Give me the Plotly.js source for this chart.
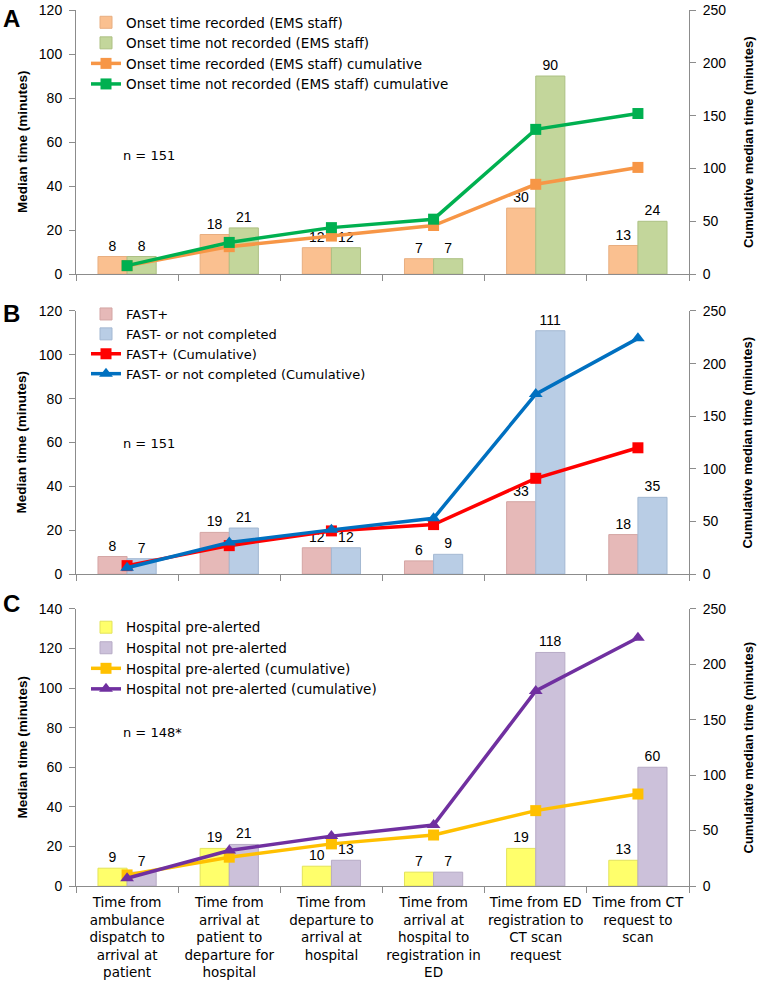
<!DOCTYPE html>
<html>
<head>
<meta charset="utf-8">
<script src="https://cdn.plot.ly/plotly-3.0.1.min.js"></script>
<style>html,body{margin:0;padding:0;background:#fff;}#chart{width:758px;height:987px;}</style>
</head>
<body>
<div id="chart"></div>
<script>
var categories = [
  "Time from<br>ambulance<br>dispatch to<br>arrival at<br>patient",
  "Time from<br>arrival at<br>patient to<br>departure for<br>hospital",
  "Time from<br>departure to<br>arrival at<br>hospital",
  "Time from<br>arrival at<br>hospital to<br>registration in<br>ED",
  "Time from ED<br>registration to<br>CT scan<br>request",
  "Time from CT<br>request to<br>scan"
];

// Panel A
var onsetRecorded = [8, 18, 12, 7, 30, 13];
var onsetNotRecorded = [8, 21, 12, 7, 90, 24];
var onsetRecordedCum = [8, 26, 36, 46, 85, 101];
var onsetNotRecordedCum = [8, 30, 44, 52, 137, 152];

// Panel B
var fastPos = [8, 19, 12, 6, 33, 18];
var fastNeg = [7, 21, 12, 9, 111, 35];
var fastPosCum = [8, 27, 41, 47, 91, 120];
var fastNegCum = [6, 30, 42, 53, 171, 224];

// Panel C
var preAlerted = [9, 19, 10, 7, 19, 13];
var notPreAlerted = [7, 21, 13, 7, 118, 60];
var preAlertedCum = [10, 26, 38, 46, 68, 83];
var notPreAlertedCum = [7, 32, 45, 55, 176, 224];

var FONT = "Liberation Sans, Arial, sans-serif";
var WIDE = "DejaVu Sans, sans-serif";

function bar(y, name, color, line, xa, ya, leg) {
  return {type: 'bar', x: categories, y: y, name: name, xaxis: xa, yaxis: ya, legend: leg,
    marker: {color: color, line: {color: line, width: 1}},
    text: y, texttemplate: '%{y}', textposition: 'outside', cliponaxis: false,
    textfont: {family: FONT, size: 14, color: '#000'}, constraintext: 'none'};
}
function line(y, name, color, symbol, size, xa, ya, leg) {
  return {type: 'scatter', mode: 'lines+markers', x: categories, y: y, name: name,
    xaxis: xa, yaxis: ya, legend: leg, cliponaxis: false,
    line: {color: color, width: 3.5},
    marker: {color: color, symbol: symbol, size: size}};
}

var data = [
  bar(onsetRecorded, 'Onset time recorded (EMS staff)', '#FAC090', '#E8AE80', 'x', 'y', 'legend'),
  bar(onsetNotRecorded, 'Onset time not recorded (EMS staff)', '#C3D69B', '#ADC083', 'x', 'y', 'legend'),
  line(onsetRecordedCum, 'Onset time recorded (EMS staff) cumulative', '#F79646', 'square', 11, 'x', 'y2', 'legend'),
  line(onsetNotRecordedCum, 'Onset time not recorded (EMS staff) cumulative', '#00B050', 'square', 11, 'x', 'y2', 'legend'),

  bar(fastPos, 'FAST+', '#E6B9B8', '#D4A5A4', 'x2', 'y3', 'legend2'),
  bar(fastNeg, 'FAST- or not completed', '#B9CDE5', '#A3B8D2', 'x2', 'y3', 'legend2'),
  line(fastPosCum, 'FAST+ (Cumulative)', '#FF0000', 'square', 11, 'x2', 'y4', 'legend2'),
  line(fastNegCum, 'FAST- or not completed (Cumulative)', '#0070C0', 'triangle-up', 12, 'x2', 'y4', 'legend2'),

  bar(preAlerted, 'Hospital pre-alerted', '#FFFF6B', '#E3E35A', 'x3', 'y5', 'legend3'),
  bar(notPreAlerted, 'Hospital not pre-alerted', '#CCC1DA', '#B7ABC6', 'x3', 'y5', 'legend3'),
  line(preAlertedCum, 'Hospital pre-alerted (cumulative)', '#FFC000', 'square', 11, 'x3', 'y6', 'legend3'),
  line(notPreAlertedCum, 'Hospital not pre-alerted (cumulative)', '#7030A0', 'triangle-up', 12, 'x3', 'y6', 'legend3')
];

var AX = '#8C8C8C';
var tickFont = {family: FONT, size: 14, color: '#000'};
function xax(anchor, showLabels) {
  return {anchor: anchor, domain: [0, 1], type: 'category', showline: true, linecolor: AX, linewidth: 1,
    ticks: 'outside', tickson: 'boundaries', ticklen: 6, tickcolor: AX, showgrid: false,
    showticklabels: showLabels, tickfont: {family: WIDE, size: 13.5, color: '#000'}, tickangle: 0,
    ticklabelstandoff: 4, zeroline: false};
}
function yleft(dom, max, anchor) {
  return {domain: dom, range: [0, max], dtick: 20, anchor: anchor, showline: true, linecolor: AX,
    ticks: 'outside', ticklen: 6, tickcolor: AX, showgrid: false, zeroline: false,
    tickfont: tickFont, ticklabelstandoff: 4, ticklabeloverflow: 'allow'};
}
function yright(over, anchor) {
  return {overlaying: over, side: 'right', range: [0, 250], dtick: 50, anchor: anchor, showline: true,
    linecolor: AX, ticks: 'outside', ticklen: 6, tickcolor: AX, showgrid: false, zeroline: false,
    tickfont: tickFont, ticklabelstandoff: 4, ticklabeloverflow: 'allow'};
}

var dA = [0.6985, 1], dB = [0.3561, 0.6564], dC = [0, 0.3163];
var PW = 613; // plot width in px
function paperY(py) { return (886 - py) / 879; }
function legendAt(topPx, size) {
  return {x: 10 / PW, xanchor: 'left', y: paperY(topPx), yanchor: 'top', bgcolor: 'rgba(0,0,0,0)',
    font: {family: WIDE, size: size, color: '#000'}, tracegroupgap: 0, traceorder: 'normal'};
}

var annotations = [];
function yTitles(dom) {
  var mid = (dom[0] + dom[1]) / 2;
  annotations.push({text: '<b>Median time (minutes)</b>', xref: 'paper', yref: 'paper', x: 0, y: mid,
    xanchor: 'center', yanchor: 'middle', xshift: -54, textangle: -90, showarrow: false,
    font: {family: FONT, size: 13.5, color: '#000'}});
  annotations.push({text: '<b>Cumulative median time (minutes)</b>', xref: 'paper', yref: 'paper', x: 1, y: mid,
    xanchor: 'center', yanchor: 'middle', xshift: 59, textangle: -90, showarrow: false,
    font: {family: FONT, size: 13, color: '#000'}});
}
yTitles(dA); yTitles(dB); yTitles(dC);

var letters = [['A', 16], ['B', 312], ['C', 603]];
letters.forEach(function (l) {
  annotations.push({text: '<b>' + l[0] + '</b>', xref: 'paper', yref: 'paper', x: 0, y: paperY(l[1]),
    xanchor: 'center', yanchor: 'middle', xshift: -65, showarrow: false,
    font: {family: FONT, size: 24, color: '#000'}});
});
var nTexts = [['n = 151', 153], ['n = 151', 442], ['n = 148*', 732]];
nTexts.forEach(function (n) {
  annotations.push({text: n[0], xref: 'paper', yref: 'paper', x: 45 / PW, xanchor: 'left', y: paperY(n[1]),
    yanchor: 'middle', showarrow: false, font: {family: WIDE, size: 13, color: '#000'}});
});

var layout = {
  width: 758, height: 987,
  margin: {l: 76, r: 69, t: 7, b: 101},
  paper_bgcolor: '#fff', plot_bgcolor: '#fff',
  font: {family: FONT, size: 14, color: '#000'},
  barmode: 'group', bargap: 0.43, bargroupgap: 0,
  xaxis: xax('y', false),
  xaxis2: xax('y3', false),
  xaxis3: xax('y5', true),
  yaxis: yleft(dA, 120, 'x'),
  yaxis2: yright('y', 'x'),
  yaxis3: yleft(dB, 120, 'x2'),
  yaxis4: yright('y3', 'x2'),
  yaxis5: yleft(dC, 140, 'x3'),
  yaxis6: yright('y5', 'x3'),
  legend: legendAt(4, 13.5),
  legend2: legendAt(297, 13),
  legend3: legendAt(611, 13.5),
  showlegend: true,
  annotations: annotations
};

Plotly.newPlot('chart', data, layout, {displayModeBar: false, staticPlot: true});
</script>
</body>
</html>
